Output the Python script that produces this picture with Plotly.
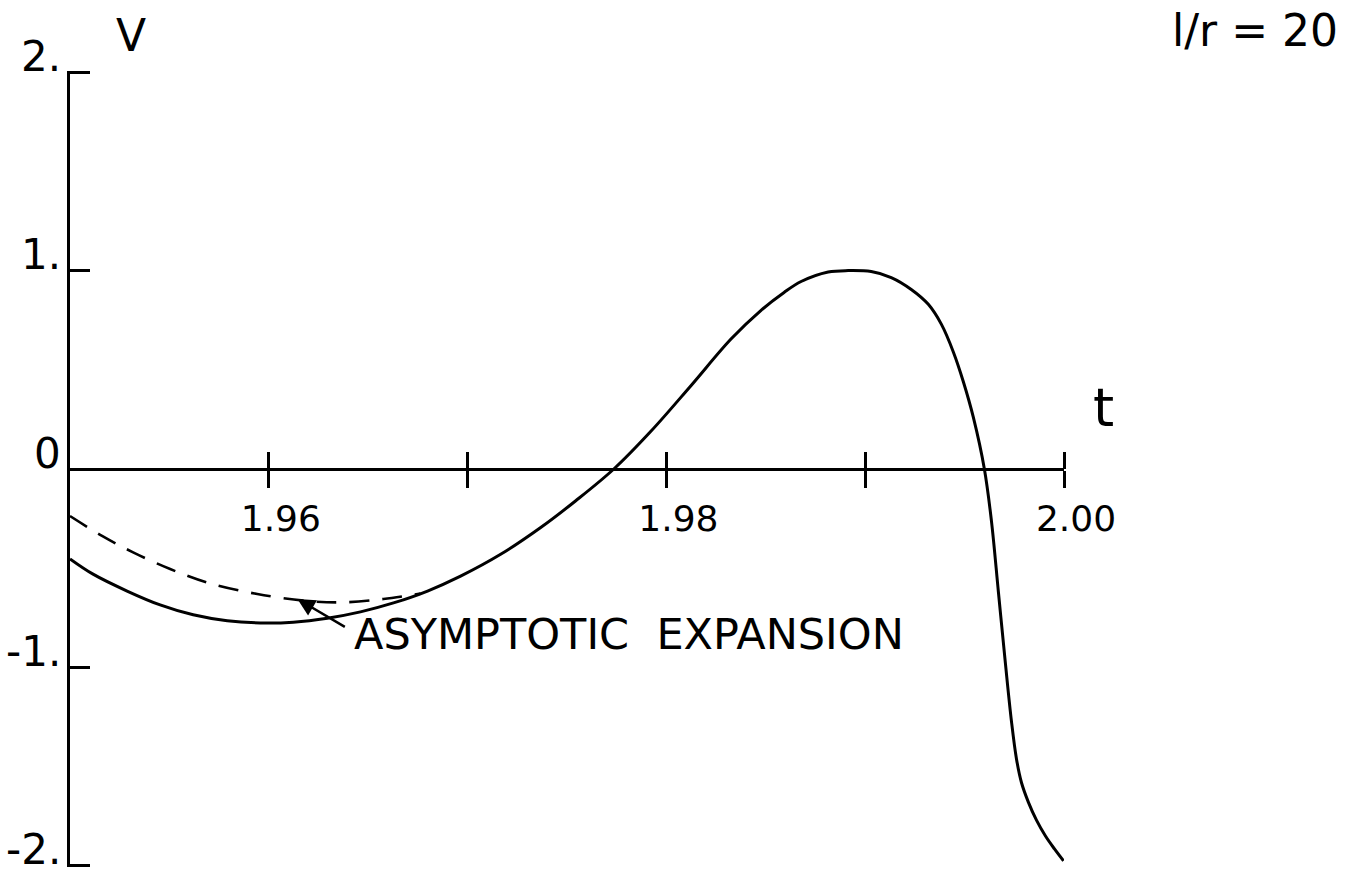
import plotly.graph_objects as go

# Exact numerical solution v(t) for l/r = 20
t_exact = [1.950000, 1.951159, 1.952872, 1.954534, 1.956196, 1.957909, 1.959572,
           1.961234, 1.962947, 1.964610, 1.966272, 1.967985, 1.969647, 1.971662,
           1.973678, 1.975441, 1.977355, 1.979219, 1.981234, 1.983249, 1.984761,
           1.985919, 1.986776, 1.988136, 1.989144, 1.990302, 1.991310, 1.992317,
           1.993174, 1.993829, 1.994433, 1.994937, 1.995441, 1.995995,
           1.996348, 1.996700, 1.997053, 1.997355, 1.997607, 1.997859, 1.998212,
           1.998615, 1.999068, 1.999521, 1.999975]
v_exact = [-0.453, -0.53, -0.615, -0.685, -0.735, -0.765, -0.776,
           -0.772, -0.752, -0.72, -0.675, -0.615, -0.54, -0.43,
           -0.295, -0.16, 0.0, 0.19, 0.42, 0.655, 0.80,
           0.89, 0.945, 0.993, 1.0, 0.995, 0.965, 0.905,
           0.83, 0.73, 0.59, 0.44, 0.26, 0.0,
           -0.26, -0.62, -0.98, -1.27, -1.46, -1.58, -1.68,
           -1.77, -1.85, -1.915, -1.975]

# Asymptotic expansion (dashed), valid away from t = 2
t_asym = [1.950000, 1.951612, 1.953174, 1.955038, 1.956952, 1.959421, 1.961940,
          1.963703, 1.965768, 1.967632]
v_asym = [-0.237, -0.337, -0.42, -0.504, -0.574, -0.63, -0.665,
          -0.672, -0.655, -0.628]

# Axis ticks
x_tickvals = [1.96, 1.97, 1.98, 1.99, 2.00]
x_ticktext = ["1.96", "", "1.98", "", "2.00"]
y_tickvals = [2, 1, 0, -1, -2]
y_ticktext = ["2.", "1.", "0", "-1.", "-2."]

FONT = "DejaVu Sans"
X_RANGE = [1.95, 2.00]
Y_RANGE = [-2.006, 2.006]

fig = go.Figure()

fig.add_trace(go.Scatter(
    x=t_asym, y=v_asym, mode="lines",
    line=dict(color="black", width=2.6, dash="20px,13px", shape="spline", smoothing=1.0),
    hoverinfo="skip", showlegend=False))

fig.add_trace(go.Scatter(
    x=t_exact, y=v_exact, mode="lines",
    line=dict(color="black", width=3, shape="spline", smoothing=1.0),
    hoverinfo="skip", showlegend=False))

# helper trace so the upper tick axis is drawn
fig.add_trace(go.Scatter(
    x=x_tickvals, y=[0] * len(x_tickvals), xaxis="x2", mode="lines",
    line=dict(width=0, color="rgba(0,0,0,0)"), hoverinfo="skip", showlegend=False))

fig.update_layout(
    width=1353, height=874,
    margin=dict(l=70, r=289, t=71, b=7),
    paper_bgcolor="white", plot_bgcolor="white",
    font=dict(family=FONT, color="black"),
    showlegend=False,
    xaxis=dict(
        range=X_RANGE, anchor="free", position=0.5,
        showgrid=False, zeroline=False,
        showline=True, linecolor="black", linewidth=2.5,
        ticks="outside", ticklen=17, tickwidth=2.5, tickcolor="black",
        tickvals=x_tickvals, ticktext=x_ticktext,
        tickfont=dict(size=36, family=FONT), ticklabelshift=12,
    ),
    xaxis2=dict(
        range=X_RANGE, overlaying="x", anchor="free", position=0.5, side="top",
        showgrid=False, zeroline=False, showline=False,
        ticks="outside", ticklen=17, tickwidth=2.5, tickcolor="black",
        tickvals=x_tickvals, showticklabels=False,
    ),
    yaxis=dict(
        range=Y_RANGE, showgrid=False, zeroline=False,
        showline=True, linecolor="black", linewidth=2.5,
        ticks="inside", ticklen=20, tickwidth=2.5, tickcolor="black",
        tickvals=y_tickvals, showticklabels=False,
    ),
)

# y tick labels, set slightly above their ticks
for val, txt in zip(y_tickvals, y_ticktext):
    fig.add_annotation(text=txt, xref="paper", yref="y", x=-0.007, y=val,
                       showarrow=False, font=dict(size=42, family=FONT),
                       xanchor="right", yanchor="middle", yshift=16)

# axis titles and parameter label
fig.add_annotation(text="V", xref="paper", yref="paper", x=0.0614, y=1.044,
                   showarrow=False, font=dict(size=44, family=FONT),
                   xanchor="center", yanchor="middle")
fig.add_annotation(text="t", xref="paper", yref="paper", x=1.040, y=0.577,
                   showarrow=False, font=dict(size=54, family=FONT),
                   xanchor="center", yanchor="middle")
fig.add_annotation(text="l/r = 20", xref="paper", yref="paper", x=1.192, y=1.051,
                   showarrow=False, font=dict(size=44, family=FONT),
                   xanchor="center", yanchor="middle")

# label and pointer for the asymptotic curve
fig.add_annotation(text="", x=1.96144, y=-0.655, ax=1.96390, ay=-0.80,
                   xref="x", yref="y", axref="x", ayref="y",
                   showarrow=True, arrowhead=2, arrowsize=1.4, arrowwidth=2.5,
                   arrowcolor="black")
fig.add_annotation(text="ASYMPTOTIC  EXPANSION", x=1.96421, y=-0.831,
                   xref="x", yref="y", showarrow=False,
                   font=dict(size=43, family=FONT),
                   xanchor="left", yanchor="middle")

fig.write_html("out.html")
